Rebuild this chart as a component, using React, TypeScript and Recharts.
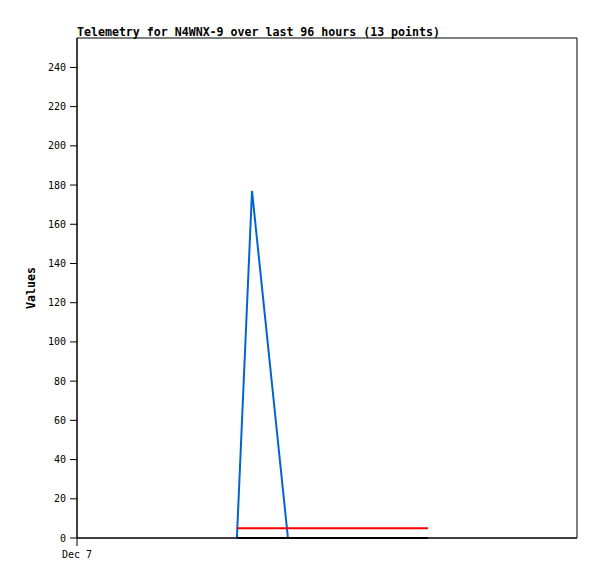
import { LineChart, Line, XAxis, YAxis, ReferenceArea } from 'recharts';

// hours since start of the 96 hour window
const hours = [30.7, 33.6, 40.5, 43.5, 46.5, 49.5, 52.5, 55.5, 58.5, 61.5, 64.5, 66.0, 67.4];
const blueValues = [0, 177, 0, 0, 0, 0, 0, 0, 0, 0, 0, 0, 0];
const redValues = [5, 5, 5, 5, 5, 5, 5, 5, 5, 5, 5, 5, 5];
const blackValues = [0, 0, 0, 0, 0, 0, 0, 0, 0, 0, 0, 0, 0];
const yTicks = [0, 20, 40, 60, 80, 100, 120, 140, 160, 180, 200, 220, 240];
const xTicks = [0];
const xTickLabels = ['Dec 7'];

const mono = '"DejaVu Sans Mono", monospace';

export default function App() {
  const chartData = hours.map((h, i) => ({
    t: h,
    blue: blueValues[i],
    red: redValues[i],
    black: blackValues[i],
  }));

  return (
    <div style={{ position: 'absolute', left: 0, top: 0, width: 597, height: 579, background: '#fff' }}>
      <div
        style={{
          position: 'absolute',
          left: 77,
          top: 25,
          fontFamily: mono,
          fontWeight: 'bold',
          fontSize: 11.6,
          lineHeight: '14px',
          color: '#000',
          whiteSpace: 'nowrap',
        }}
      >
        Telemetry for N4WNX-9 over last 96 hours (13 points)
      </div>
      <LineChart width={597} height={579} data={chartData} margin={{ top: 38, right: 20, left: 0, bottom: 0 }}>
        <ReferenceArea x1={0} x2={96} y1={0} y2={255} fill="none" stroke="#000" strokeWidth={1} />
        <XAxis
          dataKey="t"
          type="number"
          domain={[0, 96]}
          ticks={xTicks}
          tickFormatter={(v, i) => xTickLabels[i] ?? ''}
          height={41}
          tickSize={8}
          tickMargin={5}
          stroke="#000"
          tick={{ fontFamily: mono, fontSize: 10, fill: '#000' }}
          allowDataOverflow
        />
        <YAxis
          type="number"
          domain={[0, 255]}
          ticks={yTicks}
          width={77}
          tickSize={7}
          tickMargin={4}
          stroke="#000"
          tick={{ fontFamily: mono, fontSize: 10, fill: '#000' }}
          label={{
            value: 'Values',
            angle: -90,
            position: 'insideLeft',
            offset: 31,
            style: { fontFamily: mono, fontWeight: 'bold', fontSize: 11.6, fill: '#000', textAnchor: 'middle' },
          }}
        />
        <Line type="linear" dataKey="blue" stroke="#0066cc" strokeWidth={2} dot={false} isAnimationActive={false} />
        <Line type="linear" dataKey="red" stroke="#ff0000" strokeWidth={2} dot={false} isAnimationActive={false} />
        <Line type="linear" dataKey="black" stroke="#000000" strokeWidth={2} dot={false} isAnimationActive={false} />
      </LineChart>
    </div>
  );
}
